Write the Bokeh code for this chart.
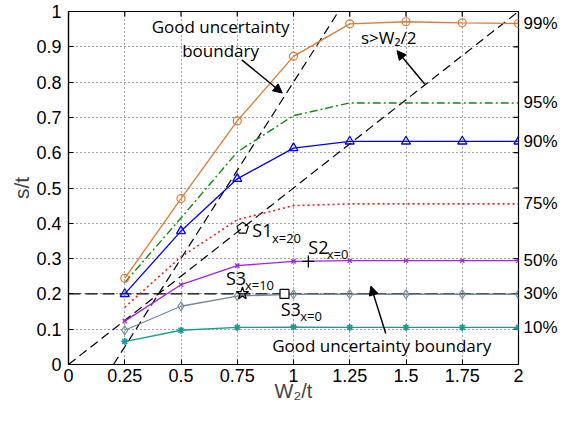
import math
from bokeh.plotting import figure
from bokeh.models import LinearAxis, FixedTicker, Label, Arrow, NormalHead, Range1d
from bokeh.embed import file_html
from bokeh.resources import INLINE

# ---- data ----
w2 = [0.25, 0.5, 0.75, 1.0, 1.25, 1.5, 1.75, 2.0]
p99 = [0.244, 0.470, 0.690, 0.873, 0.965, 0.971, 0.968, 0.966]
p95 = [0.232, 0.415, 0.602, 0.705, 0.741, 0.741, 0.741, 0.741]
p90 = [0.200, 0.378, 0.526, 0.613, 0.632, 0.632, 0.632, 0.632]
p75 = [0.162, 0.305, 0.410, 0.450, 0.455, 0.455, 0.455, 0.455]
p50 = [0.123, 0.226, 0.280, 0.292, 0.294, 0.294, 0.294, 0.294]
p30 = [0.097, 0.165, 0.194, 0.199, 0.199, 0.199, 0.199, 0.199]
p10 = [0.065, 0.097, 0.105, 0.106, 0.105, 0.105, 0.105, 0.105]
pct_labels = ["99%", "95%", "90%", "75%", "50%", "30%", "10%"]
pct_y = [0.966, 0.741, 0.632, 0.455, 0.294, 0.200, 0.105]

half_x = [0.0, 2.0]
half_y = [0.0, 1.0]
steep_x = [0.2, 1.2]
steep_y = [0.0, 1.0]
hline_x = [0.0, 2.0]
hline_y = [0.2, 0.2]

s1 = (0.774, 0.386)
s2 = (1.066, 0.292)
s3_10 = (0.773, 0.201)
s3_0 = (0.960, 0.200)

x_ticks = [0, 0.25, 0.5, 0.75, 1.0, 1.25, 1.5, 1.75, 2.0]
x_tick_labels = ["0", "0.25", "0.5", "0.75", "1", "1.25", "1.5", "1.75", "2"]
y_ticks = [0, 0.1, 0.2, 0.3, 0.4, 0.5, 0.6, 0.7, 0.8, 0.9, 1.0]
y_tick_labels = ["0", "0.1", "0.2", "0.3", "0.4", "0.5", "0.6", "0.7", "0.8", "0.9", "1"]

TICKFONT = "Liberation Sans"
ANNFONT = "Open Sans"

p = figure(width=560, height=409, output_backend="svg", toolbar_location=None,
           x_range=Range1d(0, 2), y_range=Range1d(0, 1),
           min_border_left=68, min_border_right=39, min_border_top=11, min_border_bottom=45,
           x_axis_label="W\u2082/t", y_axis_label="s/t")
p.outline_line_color = "black"
p.outline_line_width = 1.2
p.background_fill_color = "white"
p.border_fill_color = "white"

for ax, ticks, labels in ((p.xaxis[0], x_ticks, x_tick_labels), (p.yaxis[0], y_ticks, y_tick_labels)):
    ax.ticker = FixedTicker(ticks=ticks)
    ax.major_label_overrides = {t: l for t, l in zip(ticks, labels)}
    ax.major_tick_in = 5
    ax.major_tick_out = 0
    ax.minor_tick_in = 0
    ax.minor_tick_out = 0
    ax.axis_line_color = "black"
    ax.axis_line_width = 1.2
    ax.major_label_text_font = TICKFONT
    ax.major_label_text_font_size = "18px"
    ax.major_label_text_color = "black"
    ax.axis_label_text_font = TICKFONT
    ax.axis_label_text_font_style = "normal"
p.xaxis[0].major_label_standoff = 4
p.xaxis[0].axis_label_standoff = -5
p.xaxis[0].axis_label_text_font_size = "20px"
p.yaxis[0].major_label_standoff = 7
p.yaxis[0].axis_label_standoff = 0
p.yaxis[0].axis_label_text_font_size = "21px"

# percentile labels on the right as an axis
pax = LinearAxis(ticker=FixedTicker(ticks=pct_y),
                 major_label_overrides={v: t for v, t in zip(pct_y, pct_labels)},
                 major_tick_in=0, major_tick_out=0, minor_tick_in=0, minor_tick_out=0,
                 major_tick_line_color=None, minor_tick_line_color=None, axis_line_color=None,
                 major_label_text_font=TICKFONT, major_label_text_font_size="17px",
                 major_label_text_color="black", major_label_standoff=5)
p.add_layout(pax, "right")

p.xgrid.ticker = FixedTicker(ticks=x_ticks)
p.ygrid.ticker = FixedTicker(ticks=y_ticks)
p.grid.grid_line_color = "#222222"
p.grid.grid_line_dash = "1 3"
p.grid.grid_line_width = 1
p.grid.grid_line_alpha = 0.8

# inward box ticks on top and right edges (half of each dash is clipped by the frame)
p.scatter(x_ticks, [1.0] * len(x_ticks), marker="dash", angle=math.pi / 2, size=10,
          line_color="black", line_width=1.2)
p.scatter([2.0] * len(y_ticks), y_ticks, marker="dash", size=10,
          line_color="black", line_width=1.2)

# boundary lines
p.line(half_x, half_y, line_color="black", line_dash="9 5", line_width=1.2)
p.line(steep_x, steep_y, line_color="black", line_dash="9 5", line_width=1.2)
p.line(hline_x, hline_y, line_color="black", line_dash="12 5", line_width=1.4)

ORANGE = "#DD7A36"
GREEN = "#128A12"
BLUE = "#0000FF"
RED = "#FF1A1A"
PURPLE = "#A020F0"
GRAY = "#74879A"
TEAL = "#1A9A96"

p.line(w2, p75, line_color=RED, line_dash="2 3", line_width=1.6)
p.line(w2, p95, line_color=GREEN, line_dash="8 3 2 3", line_width=1.4)
p.line(w2, p99, line_color=ORANGE, line_width=1.3)
p.scatter(w2, p99, marker="circle", size=8, line_color=ORANGE, fill_color=None, line_width=1.2)
p.line(w2, p90, line_color=BLUE, line_width=1.3)
p.scatter(w2, p90, marker="triangle", size=9, line_color=BLUE, fill_color=None, line_width=1.3)
p.line(w2, p50, line_color=PURPLE, line_width=1.3)
p.scatter(w2, p50, marker="x", size=6, line_color=PURPLE, line_width=1.3)
p.line(w2, p30, line_color=GRAY, line_width=1.3)
p.scatter(w2, p30, marker="diamond", size=9, line_color=GRAY, fill_color=None, line_width=1.2)
p.line(w2, p10, line_color=TEAL, line_width=1.3)
p.scatter(w2, p10, marker="asterisk", size=7, line_color=TEAL, line_width=1.6)

# special points
try:
    p.ngon(x=[s1[0]], y=[s1[1]], radius=6, radius_units="screen", n=5, angle=0,
           line_color="black", fill_color=None, line_width=1.2)
except Exception:
    p.scatter([s1[0]], [s1[1]], marker="hex", size=11, line_color="black", fill_color=None, line_width=1.2)
p.scatter([s2[0]], [s2[1]], marker="cross", size=12, line_color="black", line_width=1.3)
p.scatter([s3_10[0]], [s3_10[1]], marker="star", size=13, line_color="black", fill_color=None, line_width=1.2)
p.scatter([s3_0[0]], [s3_0[1]], marker="square", size=9, line_color="black", fill_color="white", line_width=1.2)

def lab(x, y, text, size, font=ANNFONT, align="left", baseline="middle"):
    p.add_layout(Label(x=x, y=y, text=text, text_font=font, text_font_size=size,
                       text_align=align, text_baseline=baseline, text_color="black"))

# annotations
lab(0.676, 0.958, "Good uncertainty", "17px", align="center")
lab(0.676, 0.889, "boundary", "17px", align="center")
lab(1.300, 0.927, "s>W\u2082/2", "17px")
lab(1.392, 0.053, "Good uncertainty boundary", "17px", align="center")

lab(0.817, 0.382, "S1", "18px")
lab(0.904, 0.357, "x=20", "13px")
lab(1.066, 0.333, "S2", "18px")
lab(1.148, 0.312, "x=0", "13px")
lab(0.700, 0.244, "S3", "18px")
lab(0.784, 0.224, "x=10", "13px")
lab(0.943, 0.158, "S3", "18px")
lab(1.030, 0.137, "x=0", "13px")

def arrow(x0, y0, x1, y1):
    p.add_layout(Arrow(end=NormalHead(size=9, fill_color="black", line_color="black"),
                       x_start=x0, y_start=y0, x_end=x1, y_end=y1,
                       line_color="black", line_width=1.5))

arrow(0.770, 0.863, 0.950, 0.769)
arrow(1.584, 0.794, 1.460, 0.889)
arrow(1.410, 0.088, 1.344, 0.222)

open("out.html", "w").write(file_html(p, INLINE))
